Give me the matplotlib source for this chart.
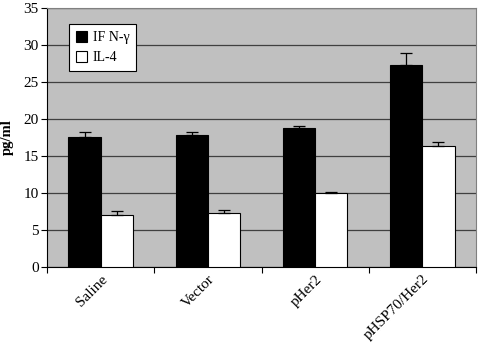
import numpy as np
import matplotlib
matplotlib.use("Agg")
import matplotlib.pyplot as plt

# valores
groups = ["Saline", "Vector", "pHer2", "pHSP70/Her2"]
ifn = [17.6, 17.9, 18.8, 27.3]
ifn_err = [0.7, 0.4, 0.2, 1.6]
il4 = [7.0, 7.3, 10.0, 16.4]
il4_err = [0.6, 0.4, 0.1, 0.5]

plt.rcParams['font.family'] = ['Liberation Serif', 'DejaVu Serif']

fig = plt.figure(figsize=(4.78, 3.48), dpi=100)
ax = fig.add_axes([47/478, 1-267/348, 429/478, 259/348])
ax.set_facecolor('#c0c0c0')

x = np.arange(len(groups)) + 0.5
w = 0.3
ax.bar(x - w/2, ifn, w, color='black', edgecolor='black', lw=0.8, label='IF N-γ', zorder=3)
ax.bar(x + w/2, il4, w, color='white', edgecolor='black', lw=0.8, label='IL-4', zorder=3)
ax.errorbar(x - w/2, ifn, yerr=[np.zeros(4), ifn_err], fmt='none', ecolor='black',
            elinewidth=0.9, capsize=4.5, capthick=0.9, zorder=4)
ax.errorbar(x + w/2, il4, yerr=[np.zeros(4), il4_err], fmt='none', ecolor='black',
            elinewidth=0.9, capsize=4.5, capthick=0.9, zorder=4)

ax.set_xlim(0, 4)
ax.set_ylim(0, 35)
ax.set_yticks(range(0, 36, 5))
ax.yaxis.grid(True, color='#404040', lw=0.9, zorder=1)
ax.set_xticks(range(0, 5))
ax.set_xticklabels([])
ax.set_xticks(x, minor=True)
ax.set_xticklabels(groups, minor=True, rotation=45, ha='right', rotation_mode='anchor', fontsize=11)
ax.tick_params(axis='x', which='minor', length=0, pad=4)
ax.tick_params(axis='x', which='major', length=4, direction='out')
ax.tick_params(axis='y', length=4, direction='out', labelsize=11, pad=2)
for s in ['top', 'right']:
    ax.spines[s].set_color('#808080')
ax.spines['left'].set_color('black')
ax.spines['bottom'].set_color('black')
ax.set_ylabel('pg/ml', fontweight='bold', fontsize=10.5, labelpad=7)

leg = ax.legend(loc='upper left', bbox_to_anchor=(22/429, 1-16/259), borderaxespad=0,
                frameon=True, fancybox=False, framealpha=1, facecolor='white',
                edgecolor='black', fontsize=10, handlelength=0.8, handleheight=0.8,
                handletextpad=0.4, borderpad=0.5, labelspacing=0.5)
leg.get_frame().set_linewidth(0.8)
leg.set_zorder(5)

fig.savefig("out.png", dpi=100)
